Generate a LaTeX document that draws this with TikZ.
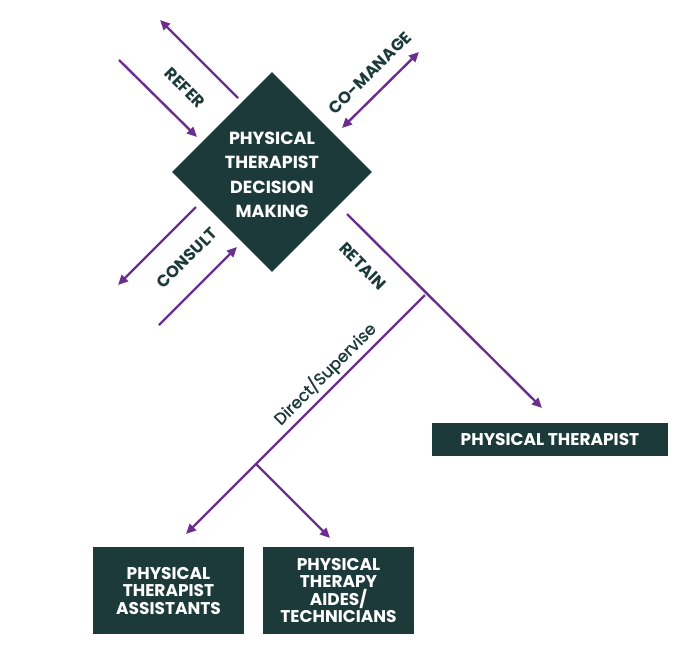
\documentclass[tikz,border=0pt]{standalone}
\usepackage{fontspec}
\setmainfont{Poppins}
\newfontfamily\pmed[FakeBold=1.3]{Poppins}
\usetikzlibrary{shapes.geometric,arrows.meta}
\definecolor{ptgreen}{HTML}{1C3A3A}
\definecolor{ptpurple}{HTML}{6C2E8E}
\begin{document}
\begin{tikzpicture}[x=1pt,y=-1pt,
  conn/.style={draw=ptpurple,line width=2.4pt},
  arr/.style={conn,-{Triangle[length=10pt,width=9pt]}},
  darr/.style={conn,{Triangle[length=10pt,width=9pt]}-{Triangle[length=10pt,width=9pt]}},
  lbl/.style={font=\fontsize{16.5}{18}\selectfont\bfseries,text=ptgreen,inner sep=0pt},
  boxnode/.style={fill=ptgreen,text=white,font=\fontsize{17}{17.5}\selectfont\bfseries,align=center,inner sep=0pt}]
\useasboundingbox (0,0) rectangle (698,662);
% central diamond
\node[diamond, fill=ptgreen, minimum width=200pt, minimum height=200pt, inner sep=0pt] (dm) at (272,172) {};
\node[text=white, align=center, font=\fontsize{17.5}{24.5}\selectfont\bfseries, inner sep=0pt] (dmtxt) at (272,175) {PHYSICAL\\THERAPIST\\DECISION\\MAKING};
% boxes
\node[boxnode, minimum width=236pt, minimum height=33pt] (pt) at (550,439.5) {PHYSICAL THERAPIST};
\node[boxnode, minimum width=151pt, minimum height=87pt] (pta) at (168.5,590.5) {PHYSICAL\\THERAPIST\\ASSISTANTS};
\node[boxnode, minimum width=151pt, minimum height=87pt] (aide) at (338.5,590.5) {PHYSICAL\\THERAPY\\AIDES/\\TECHNICIANS};
% coordinates
\coordinate (r1s) at (238,98);  \coordinate (r1e) at (160,20);
\coordinate (r2s) at (119,60);  \coordinate (r2e) at (197,137);
\coordinate (c1) at (342,128);  \coordinate (c2) at (419,52);
\coordinate (k1s) at (196,207); \coordinate (k1e) at (118,285);
\coordinate (k2s) at (159,325); \coordinate (k2e) at (237,247);
\coordinate (rt0) at (347,214); \coordinate (rtE) at (542,408);
\coordinate (j1) at (425,295);  \coordinate (tipA) at (186,534);
\coordinate (j2) at (256,464);  \coordinate (tipB) at (330,538);
% connectors
\draw[arr] (r1s) -- (r1e);
\draw[arr] (r2s) -- (r2e);
\draw[darr] (c1) -- (c2);
\draw[arr] (k1s) -- (k1e);
\draw[arr] (k2s) -- (k2e);
\draw[arr] (rt0) -- (rtE);
\draw[arr] (j1) -- (tipA);
\draw[arr] (j2) -- (tipB);
% labels
\node[lbl, rotate=-45] (lrefer) at (185,88) {REFER};
\node[lbl, rotate=45] (lcoman) at (370,73) {CO-MANAGE};
\node[lbl, rotate=45] (lconsult) at (187,258) {CONSULT};
\node[lbl, rotate=-45] (lretain) at (363,266) {RETAIN};
\node[lbl, rotate=45, font=\fontsize{16.5}{18}\pmed] (ldirect) at (325,374) {Direct/Supervise};
\end{tikzpicture}
\end{document}
